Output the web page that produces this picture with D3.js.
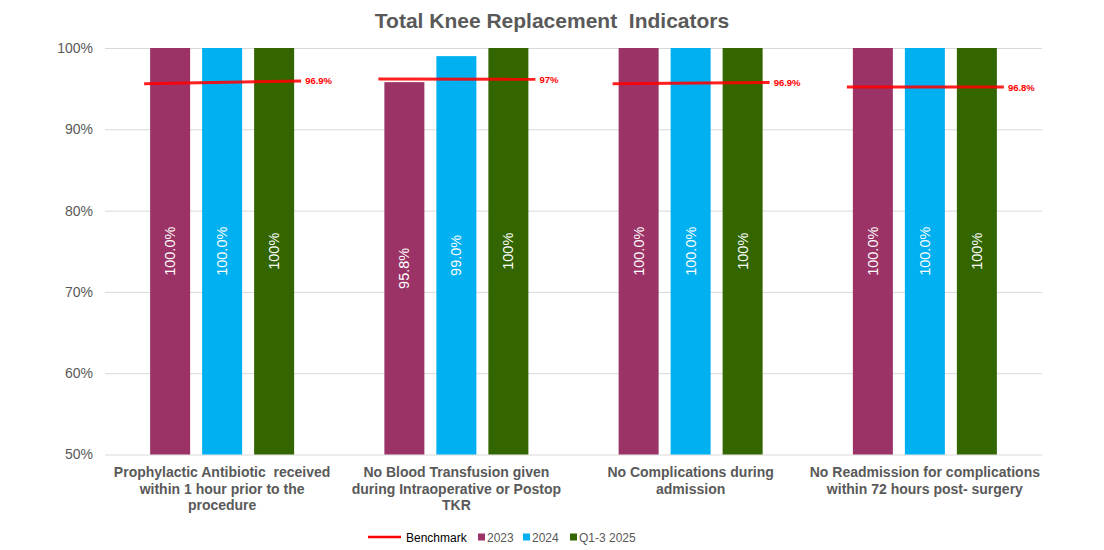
<!DOCTYPE html>
<html>
<head>
<meta charset="utf-8">
<script src="https://cdn.jsdelivr.net/npm/d3@7"></script>
<style>
  body { margin: 0; background: #fff; }
  svg { font-family: "Liberation Sans", Arial, sans-serif; }
</style>
</head>
<body>
<svg id="chart" width="1104" height="550"></svg>
<script>
// categories (one label line per entry)
var categories = [
    ["Prophylactic Antibiotic  received", "within 1 hour prior to the", "procedure"],
    ["No Blood Transfusion given", "during Intraoperative or Postop", "TKR"],
    ["No Complications during", "admission"],
    ["No Readmission for complications", "within 72 hours post- surgery"]
];
var series = ["2023", "2024", "Q1-3 2025"];
var values2023 = [100, 95.8, 100, 100];
var values2024 = [100, 99.0, 100, 100];
var valuesQ2025 = [100, 100, 100, 100];
var valueLabels2023 = ["100.0%", "95.8%", "100.0%", "100.0%"];
var valueLabels2024 = ["100.0%", "99.0%", "100.0%", "100.0%"];
var valueLabelsQ2025 = ["100%", "100%", "100%", "100%"];
// benchmark: stated value and where the line sits in the picture (start / end level)
var benchmarkLabels = ["96.9%", "97%", "96.9%", "96.8%"];
var benchmarkStart = [95.6, 96.2, 95.6, 95.2];
var benchmarkEnd = [95.95, 96.15, 95.75, 95.2];
var yTicks = [50, 60, 70, 80, 90, 100];

var colors = { "2023": "#9b3366", "2024": "#00b0f0", "Q1-3 2025": "#336600" };
var textGray = "#595959";

var svg = d3.select("#chart");
var plotLeft = 105, plotRight = 1042, plotTop = 48, plotBottom = 454.5;

var x0 = d3.scaleBand().domain(d3.range(categories.length)).range([plotLeft, plotRight]);
var x1 = d3.scaleBand().domain(series).range([0, 144]).paddingInner(12 / 52).paddingOuter(0);
var y = d3.scaleLinear().domain([50, 100]).range([plotBottom, plotTop]);

// title
svg.append("text")
    .attr("x", 552).attr("y", 28)
    .attr("text-anchor", "middle")
    .attr("font-size", 21).attr("font-weight", "bold")
    .attr("fill", textGray)
    .attr("xml:space", "preserve")
    .text("Total Knee Replacement  Indicators");

// gridlines + y labels
var yAxis = d3.axisLeft(y).tickValues(yTicks).tickFormat(d => d + "%")
    .tickSize(-(plotRight - plotLeft)).tickPadding(12);
var gy = svg.append("g").attr("transform", `translate(${plotLeft},0)`).call(yAxis);
gy.select(".domain").remove();
gy.selectAll(".tick line").attr("stroke", "#d9d9d9");
gy.selectAll(".tick text").attr("font-size", 14).attr("fill", textGray)
    .attr("font-family", "Liberation Sans, Arial, sans-serif");

// bars
var rows = categories.map((c, i) => ({
    i: i,
    vals: [
        { s: "2023", v: values2023[i], label: valueLabels2023[i] },
        { s: "2024", v: values2024[i], label: valueLabels2024[i] },
        { s: "Q1-3 2025", v: valuesQ2025[i], label: valueLabelsQ2025[i] }
    ]
}));

var groups = svg.selectAll(".grp").data(rows).enter().append("g")
    .attr("class", "grp")
    .attr("transform", d => `translate(${x0(d.i) + x0.bandwidth() / 2 - 72},0)`);

groups.selectAll("rect").data(d => d.vals).enter().append("rect")
    .attr("x", d => x1(d.s))
    .attr("y", d => y(d.v))
    .attr("width", x1.bandwidth())
    .attr("height", d => y(50) - y(d.v))
    .attr("fill", d => colors[d.s]);

groups.selectAll(".vlab").data(d => d.vals).enter().append("text")
    .attr("class", "vlab")
    .attr("transform", d => `translate(${x1(d.s) + x1.bandwidth() / 2 + 5},${(y(d.v) + y(50)) / 2}) rotate(-90)`)
    .attr("text-anchor", "middle")
    .attr("font-size", 14.5)
    .attr("fill", "#fff")
    .text(d => d.label);

// benchmark lines
groups.append("line")
    .attr("x1", -6).attr("x2", 151)
    .attr("y1", d => y(benchmarkStart[d.i]))
    .attr("y2", d => y(benchmarkEnd[d.i]))
    .attr("stroke", "#ff0000").attr("stroke-opacity", 0.88)
    .attr("stroke-width", 3);

groups.append("text")
    .attr("x", 155)
    .attr("y", d => y(benchmarkEnd[d.i]) + 3.5)
    .attr("font-size", 9.5).attr("font-weight", "bold")
    .attr("fill", "#ff0000")
    .text(d => benchmarkLabels[d.i]);

// category labels
var catText = svg.selectAll(".cat").data(categories).enter().append("text")
    .attr("class", "cat")
    .attr("x", (d, i) => x0(i) + x0.bandwidth() / 2)
    .attr("y", 477)
    .attr("text-anchor", "middle")
    .attr("font-size", 14).attr("font-weight", "bold")
    .attr("fill", textGray)
    .attr("xml:space", "preserve");
catText.selectAll("tspan").data(d => d).enter().append("tspan")
    .attr("x", function() { return this.parentNode.getAttribute("x"); })
    .attr("dy", (d, j) => j === 0 ? 0 : 16.5)
    .text(d => d);

// legend
var lg = svg.append("g").attr("transform", "translate(0,537)");
lg.append("line").attr("x1", 368).attr("x2", 401).attr("y1", 0).attr("y2", 0)
    .attr("stroke", "#ff0000").attr("stroke-width", 2.5);
lg.append("text").attr("x", 406).attr("y", 4.5).attr("font-size", 12)
    .attr("fill", "#000").text("Benchmark");
var legendX = { "2023": 478, "2024": 523, "Q1-3 2025": 570 };
series.forEach(s => {
    lg.append("rect").attr("x", legendX[s]).attr("y", -3.5).attr("width", 7).attr("height", 7)
        .attr("fill", colors[s]);
    lg.append("text").attr("x", legendX[s] + 9).attr("y", 4.5).attr("font-size", 12)
        .attr("fill", textGray).text(s);
});
</script>
</body>
</html>
